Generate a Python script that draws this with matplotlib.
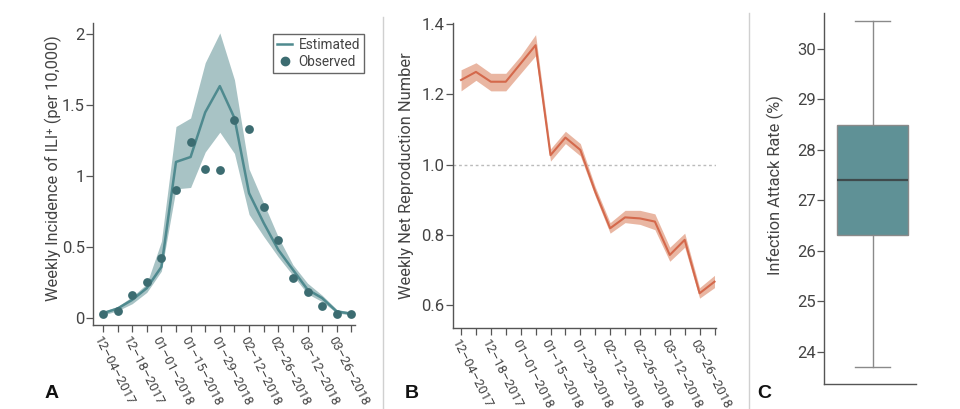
import matplotlib
matplotlib.use("Agg")
import matplotlib.pyplot as plt
from matplotlib.lines import Line2D
import numpy as np

plt.rcParams['font.family'] = ['Roboto', 'DejaVu Sans']

# ---------------- data ----------------
weeks = ["12–04–2017", "12–11–2017", "12–18–2017", "12–25–2017", "01–01–2018",
         "01–08–2018", "01–15–2018", "01–22–2018", "01–29–2018", "02–05–2018",
         "02–12–2018", "02–19–2018", "02–26–2018", "03–05–2018", "03–12–2018",
         "03–19–2018", "03–26–2018", "04–02–2018"]

ili_observed = [0.03, 0.05, 0.165, 0.25, 0.42, 0.90, 1.24, 1.05, 1.045, 1.395,
                1.33, 0.78, 0.55, 0.285, 0.18, 0.087, 0.03, 0.03]
ili_estimated = [0.033, 0.066, 0.127, 0.21, 0.36, 1.10, 1.135, 1.45, 1.635, 1.41,
                 0.88, 0.67, 0.48, 0.34, 0.20, 0.14, 0.045, 0.03]
ili_upper = [0.045, 0.08, 0.15, 0.24, 0.54, 1.35, 1.41, 1.80, 2.01, 1.68,
             1.05, 0.81, 0.57, 0.375, 0.245, 0.16, 0.06, 0.04]
ili_lower = [0.02, 0.05, 0.10, 0.18, 0.33, 0.91, 0.92, 1.17, 1.31, 1.16,
             0.73, 0.575, 0.43, 0.30, 0.17, 0.115, 0.035, 0.02]

rt_mean = [1.241, 1.264, 1.236, 1.236, 1.288, 1.34, 1.027, 1.077, 1.042, 0.923,
           0.819, 0.85, 0.847, 0.838, 0.743, 0.786, 0.634, 0.667]
rt_upper = [1.27, 1.29, 1.26, 1.26, 1.31, 1.37, 1.045, 1.095, 1.06, 0.937,
            0.835, 0.87, 0.87, 0.86, 0.765, 0.805, 0.65, 0.685]
rt_lower = [1.21, 1.24, 1.21, 1.21, 1.26, 1.31, 1.01, 1.06, 1.025, 0.91,
            0.805, 0.835, 0.83, 0.815, 0.725, 0.765, 0.62, 0.65]
rt_threshold = 1.0

# attack rate box summary: whislo, q1, median, q3, whishi
attack_stats = {"whislo": 23.70, "q1": 26.30, "med": 27.40, "q3": 28.48, "whishi": 30.55}

ili_yticks = [0, 0.5, 1, 1.5, 2]
ili_yticklabels = ["0", "0.5", "1", "1.5", "2"]
rt_yticks = [0.6, 0.8, 1.0, 1.2, 1.4]
attack_yticks = [24, 25, 26, 27, 28, 29, 30]

# ---------------- styling ----------------
W, H = 960, 409
fig = plt.figure(figsize=(W / 100, H / 100), dpi=100)

def ax_rect(l, r, t, b):
    return [l / W, 1 - b / H, (r - l) / W, (b - t) / H]

spine_col = "#555555"
tick_col = "#444444"
teal_band = "#a8c3c5"
teal_line = "#4f8a8f"
teal_dot = "#3c6c71"
or_band = "#e9b6a2"
or_line = "#d4694c"
box_fill = "#5f9196"

def style(ax):
    for s in ["top", "right"]:
        ax.spines[s].set_visible(False)
    for s in ["left", "bottom"]:
        ax.spines[s].set_color(spine_col)
        ax.spines[s].set_linewidth(1.0)
    ax.tick_params(axis="both", colors=spine_col, labelcolor=tick_col,
                   length=5, width=0.9, direction="out")
    ax.tick_params(axis="y", labelsize=12, pad=1)

x = np.arange(len(weeks))
label_idx = list(range(0, len(weeks), 2))

def set_xweeks(ax):
    ax.set_xticks(x)
    labs = [weeks[i] if i in label_idx else "" for i in x]
    ax.set_xticklabels(labs, rotation=-63, ha="left", rotation_mode="anchor",
                       fontsize=9.4)
    ax.tick_params(axis="x", pad=2)

# ---------------- Panel A ----------------
axA = fig.add_axes(ax_rect(93, 355, 23, 325))
style(axA)
axA.fill_between(x, ili_lower, ili_upper, color=teal_band, linewidth=0, zorder=1)
axA.plot(x, ili_estimated, color=teal_line, lw=1.8, zorder=2)
axA.scatter(x, ili_observed, s=40, color=teal_dot, zorder=3, linewidths=0)
axA.set_xlim(-0.68, 17.25)
axA.set_ylim(-0.05, 2.08)
axA.set_yticks(ili_yticks)
axA.set_yticklabels(ili_yticklabels)
set_xweeks(axA)
axA.set_ylabel("Weekly Incidence of ILI\u207a (per 10,000)", fontsize=11.75, color=tick_col)
axA.yaxis.set_label_coords(-0.118, 0.52)

handles = [Line2D([], [], color=teal_line, lw=1.8),
           Line2D([], [], color=teal_dot, marker="o", ls="none", markersize=6)]
leg = fig.legend(handles, ["Estimated", "Observed"], loc="upper right",
                 bbox_to_anchor=(364 / W, 1 - 34 / H), fontsize=9.8,
                 fancybox=False, framealpha=1, edgecolor="#666666",
                 handlelength=1.1, handletextpad=0.45, borderpad=0.3,
                 labelspacing=0.2, borderaxespad=0)
for t in leg.get_texts():
    t.set_color(tick_col)
leg.get_frame().set_linewidth(1.0)

# ---------------- Panel B ----------------
axB = fig.add_axes(ax_rect(452.7, 716, 22.7, 327.7))
style(axB)
axB.fill_between(x, rt_lower, rt_upper, color=or_band, linewidth=0, zorder=1)
axB.plot(x, rt_mean, color=or_line, lw=1.5, zorder=2)
axB.axhline(rt_threshold, color="#bbbbbb", lw=1.0, ls=(0, (2, 2)), zorder=0)
axB.set_xlim(-0.56, 17.1)
axB.set_ylim(0.536, 1.404)
axB.set_yticks(rt_yticks)
axB.set_yticklabels([f"{v:.1f}" for v in rt_yticks])
set_xweeks(axB)
axB.set_ylabel("Weekly Net Reproduction Number", fontsize=11.75, color=tick_col)
axB.yaxis.set_label_coords(-0.147, 0.50)

# ---------------- Panel C ----------------
axC = fig.add_axes(ax_rect(824.3, 915.7, 12.7, 384))
style(axC)
stats = [dict(attack_stats, label="")]
bp = axC.bxp(stats, positions=[0.03], widths=0.78, showfliers=False, patch_artist=True,
             boxprops=dict(facecolor=box_fill, edgecolor="#8a8a8a", linewidth=1.0),
             medianprops=dict(color="#3f4a4c", linewidth=1.6),
             whiskerprops=dict(color="#8a8a8a", linewidth=1.0),
             capprops=dict(color="#8a8a8a", linewidth=1.0),
             capwidths=0.38)
axC.set_xlim(-0.5, 0.5)
axC.set_ylim(23.36, 30.71)
axC.set_yticks(attack_yticks)
axC.set_xticks([])
axC.set_ylabel("Infection Attack Rate (%)", fontsize=11.75, color=tick_col)
axC.yaxis.set_label_coords(-0.44, 0.536)

# ---------------- separators and panel letters ----------------
fig.add_artist(Line2D([382.7 / W, 382.7 / W], [0, 1 - 17 / H], transform=fig.transFigure,
                      color="#d0d0d0", lw=1.0))
fig.add_artist(Line2D([749.3 / W, 749.3 / W], [0, 1 - 13 / H], transform=fig.transFigure,
                      color="#d0d0d0", lw=1.0))
for lab, px in [("A", 52), ("B", 412), ("C", 764)]:
    fig.text(px / W, 1 - 393 / H, lab, fontsize=14, fontweight="bold",
             family=["Liberation Sans", "DejaVu Sans"], ha="center", va="center",
             color="#111111")

fig.savefig("out.png", dpi=100)
